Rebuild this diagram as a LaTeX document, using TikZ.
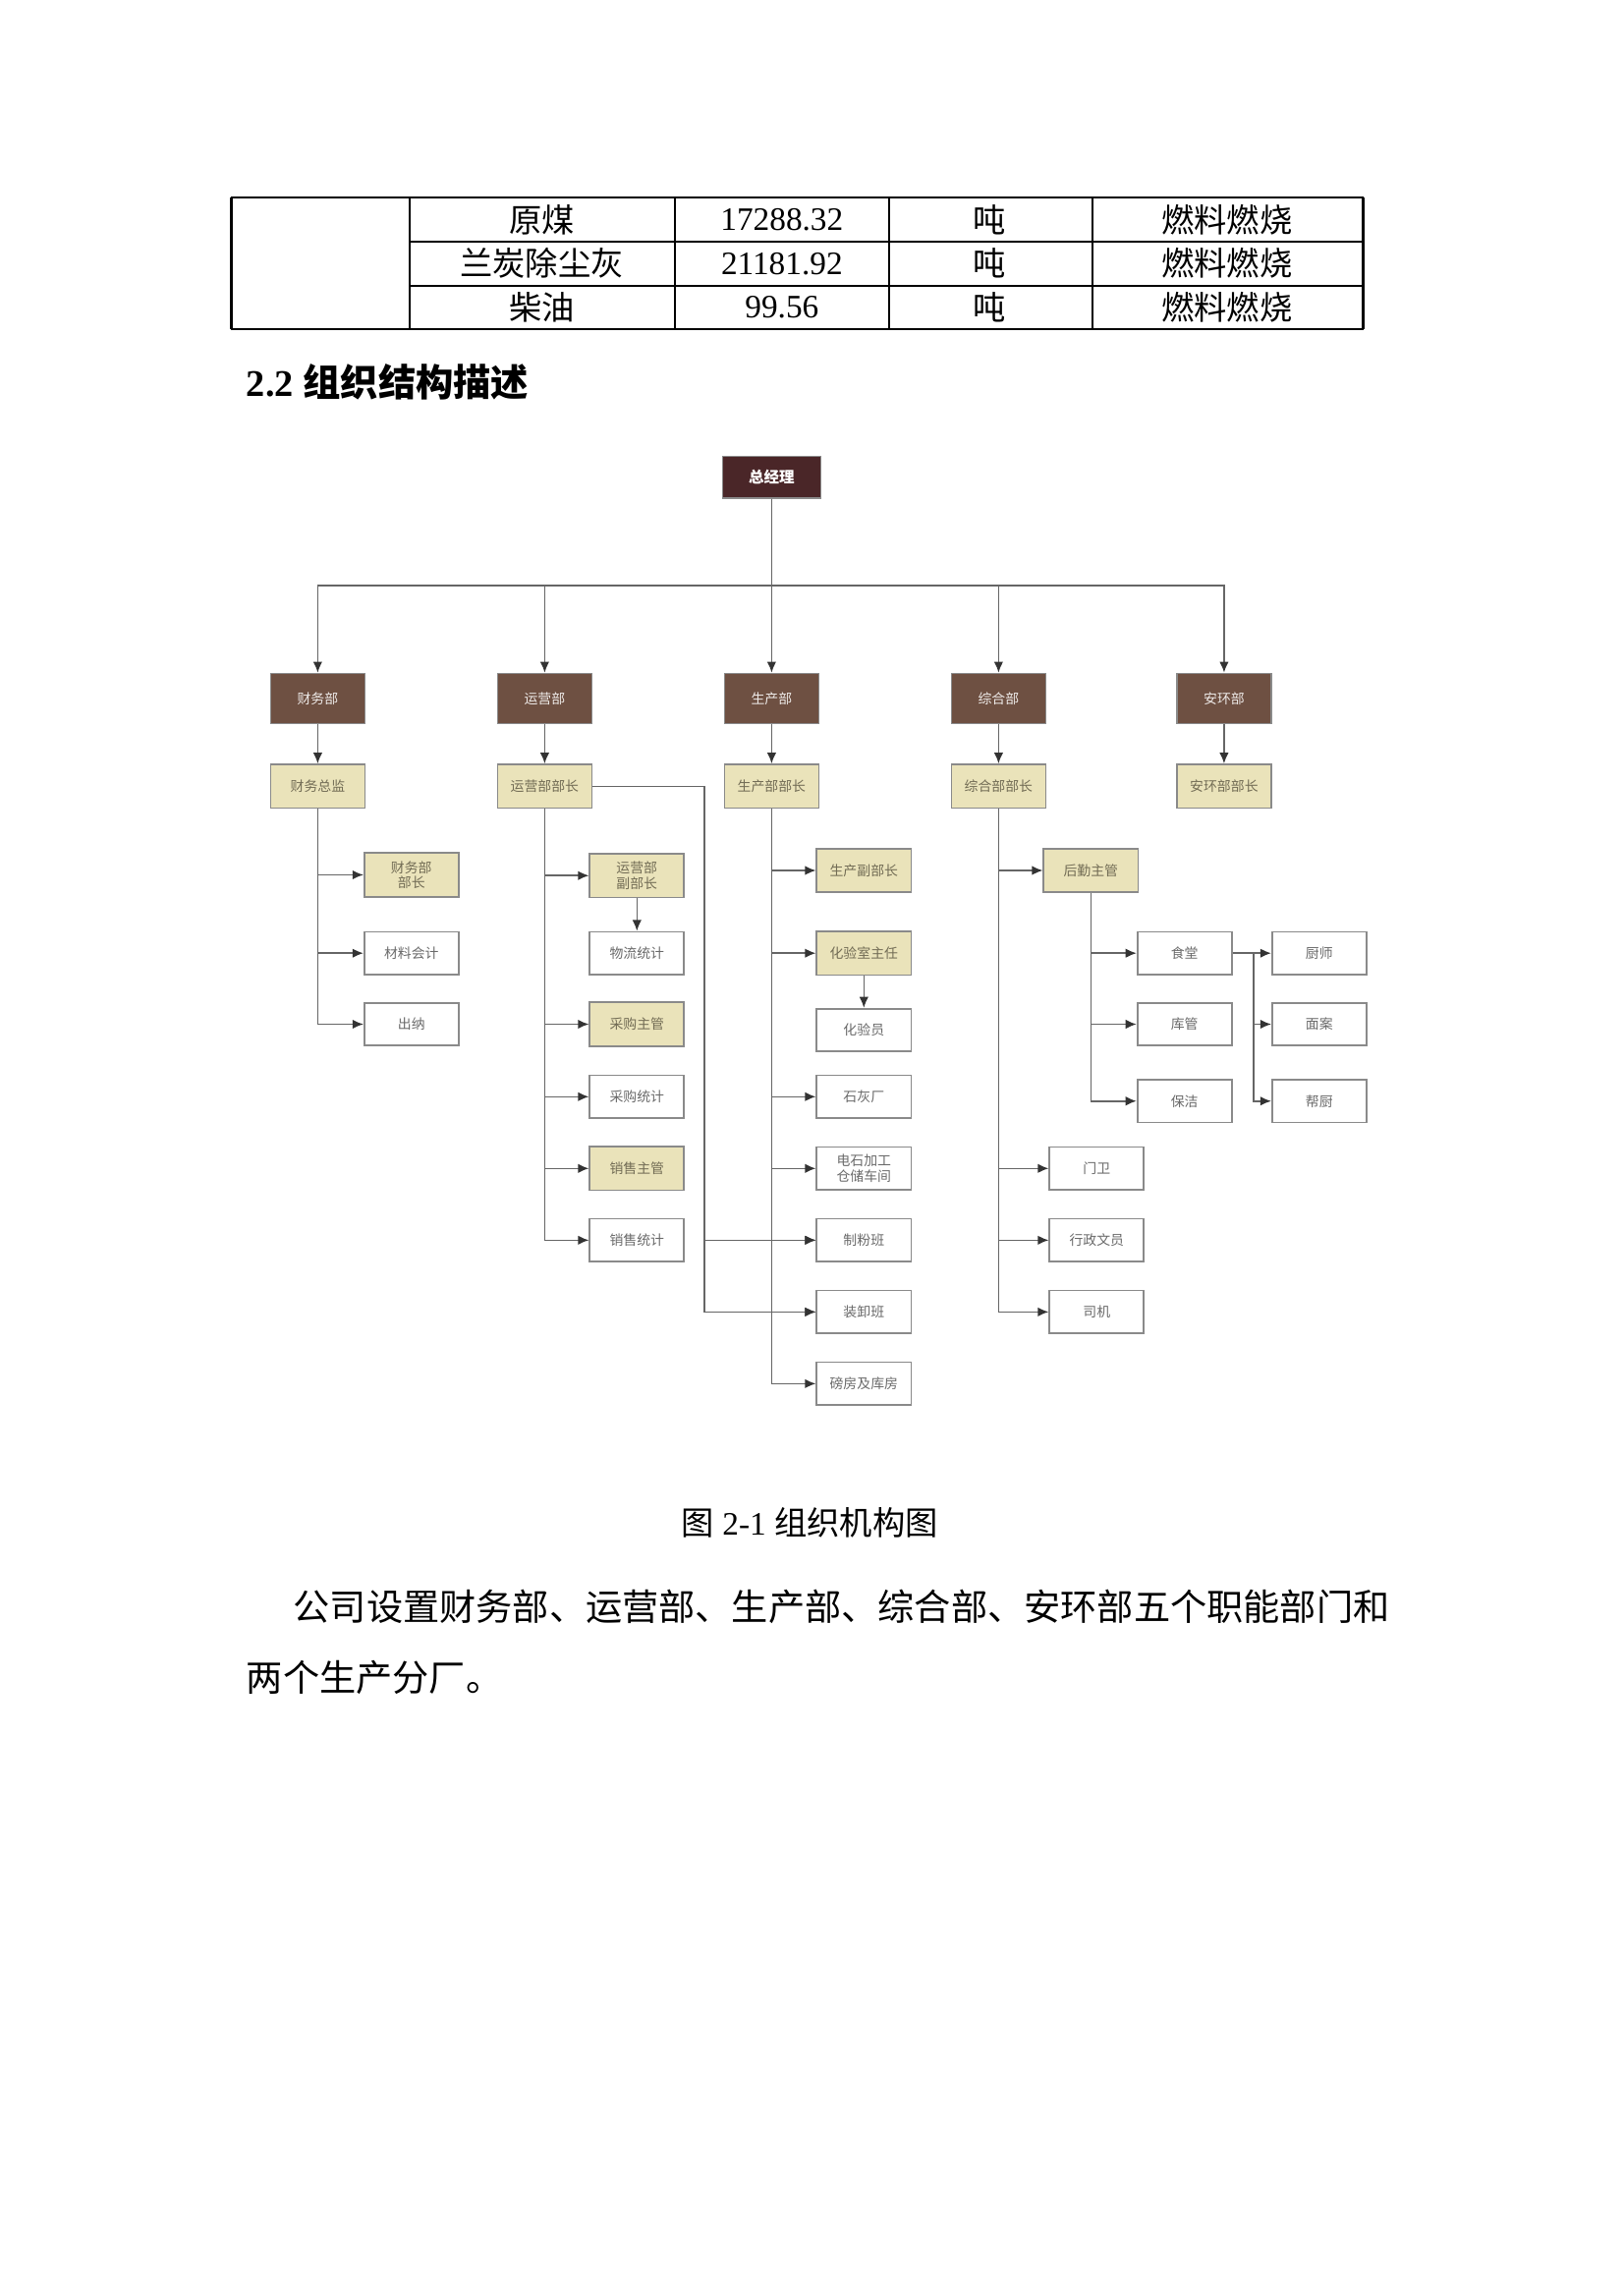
\documentclass[tikz,border=0pt]{standalone}
\usepackage{fontspec}
\setmainfont{Liberation Serif}
\newfontfamily\cjk{Noto Sans CJK SC}
\usetikzlibrary{arrows.meta}
\definecolor{bossc}{HTML}{4A2628}
\definecolor{deptc}{HTML}{6E5042}
\definecolor{khaki}{HTML}{EAE3BA}
\definecolor{linec}{HTML}{666666}
\definecolor{bordc}{HTML}{8A8A8A}
\definecolor{txtg}{HTML}{6A6A6A}
\definecolor{txtk}{HTML}{726C55}
\definecolor{arrc}{HTML}{333333}
\tikzset{
  boss/.style={draw=bordc, line width=0.5pt, fill=bossc, text=white, font=\cjk\fontsize{5.6}{6}\selectfont\bfseries, minimum width=36pt, minimum height=15.2pt, inner sep=1pt},
  dept/.style={draw=bordc, line width=0.5pt, fill=deptc, text=white!88!deptc, font=\cjk\fontsize{5}{6}\selectfont, minimum width=34.6pt, minimum height=18.4pt, inner sep=1pt},
  head/.style={draw=bordc, line width=0.6pt, fill=khaki, text=txtk, font=\cjk\fontsize{5}{6}\selectfont, minimum width=34.6pt, minimum height=16pt, inner sep=1pt, align=center},
  leaf/.style={draw=bordc, line width=0.6pt, fill=white, text=txtg, font=\cjk\fontsize{5}{6}\selectfont, minimum width=34.6pt, minimum height=15.7pt, inner sep=1pt, align=center},
  conn/.style={draw=linec, line width=0.55pt, -{Latex[length=4pt,width=3.4pt,color=arrc]}},
  plain/.style={draw=linec, line width=0.55pt},
  tline/.style={draw=black, line width=0.8pt},
  ttext/.style={font=\fontsize{12}{14}\selectfont, inner sep=0pt}
}
\begin{document}
\begin{tikzpicture}[x=0.5369pt,y=-0.5369pt]
\useasboundingbox (0,0) rectangle (1108.7,1568.1);
% ---------- table ----------
\draw[tline] (158,135) -- (931,135);
\draw[tline] (158,225) -- (931,225);
\draw[tline] (280,165) -- (931,165);
\draw[tline] (280,195) -- (931,195);
\foreach \x in {158,280,461,607,746,931} \draw[tline] (\x,135) -- (\x,225);
\node[ttext] (t11) at (370,150) {\cjk 原煤};
\node[ttext] (t12) at (534,150) {17288.32};
\node[ttext] (t13) at (676,150) {\cjk 吨};
\node[ttext] (t14) at (838,150) {\cjk 燃料燃烧};
\node[ttext] (t21) at (370,180) {\cjk 兰炭除尘灰};
\node[ttext] (t22) at (534,180) {21181.92};
\node[ttext] (t23) at (676,180) {\cjk 吨};
\node[ttext] (t24) at (838,180) {\cjk 燃料燃烧};
\node[ttext] (t31) at (370,210) {\cjk 柴油};
\node[ttext] (t32) at (534,210) {99.56};
\node[ttext] (t33) at (676,210) {\cjk 吨};
\node[ttext] (t34) at (838,210) {\cjk 燃料燃烧};
% ---------- heading ----------
\node[anchor=west, inner sep=0pt, font=\fontsize{13.8}{15}\selectfont\bfseries] (hd) at (168,261) {2.2 {\cjk\bfseries 组织结构描述}};
% ---------- chart ----------
\node[boss] (gm) at (527,326) {总经理};
\node[dept] (cw) at (217,477) {财务部};
\node[dept] (yy) at (372,477) {运营部};
\node[dept] (sc) at (527,477) {生产部};
\node[dept] (zh) at (682,477) {综合部};
\node[dept] (ah) at (836,477) {安环部};
\node[head] (cwzj) at (217,537) {财务总监};
\node[head] (yybz) at (372,537) {运营部部长};
\node[head] (scbz) at (527,537) {生产部部长};
\node[head] (zhbz) at (682,537) {综合部部长};
\node[head] (ahbz) at (836,537) {安环部部长};
% finance
\node[head, font=\cjk\fontsize{5}{5.6}\selectfont] (cwbz) at (281,597.5) {财务部\\部长};
\node[leaf] (clkj) at (281,651) {材料会计};
\node[leaf] (cn) at (281,699.5) {出纳};
% operations
\node[head, font=\cjk\fontsize{5}{5.6}\selectfont] (yyfb) at (435,598) {运营部\\副部长};
\node[leaf] (wltj) at (435,651) {物流统计};
\node[head] (cgzg) at (435,699.5) {采购主管};
\node[leaf] (cgtj) at (435,749) {采购统计};
\node[head] (xszg) at (435,798) {销售主管};
\node[leaf] (xstj) at (435,847) {销售统计};
% production
\node[head] (scfb) at (590,594.5) {生产副部长};
\node[head] (hys) at (590,651) {化验室主任};
\node[leaf] (hyy) at (590,703.5) {化验员};
\node[leaf] (shc) at (590,749) {石灰厂};
\node[leaf, font=\cjk\fontsize{5}{5.6}\selectfont] (dsjg) at (590,798) {电石加工\\仓储车间};
\node[leaf] (zfb) at (590,847) {制粉班};
\node[leaf] (zxb) at (590,896) {装卸班};
\node[leaf] (bf) at (590,945) {磅房及库房};
% general
\node[head] (hqzg) at (745,594.5) {后勤主管};
\node[leaf] (st) at (809,651) {食堂};
\node[leaf] (kg) at (809,699.5) {库管};
\node[leaf] (bj) at (809,752) {保洁};
\node[leaf] (cs) at (901,651) {厨师};
\node[leaf] (ma) at (901,699.5) {面案};
\node[leaf] (bc) at (901,752) {帮厨};
\node[leaf] (mw) at (749,798) {门卫};
\node[leaf] (xzwy) at (749,847) {行政文员};
\node[leaf] (sj) at (749,896) {司机};
% connectors
\coordinate (bus) at (527,400);
\draw[plain] (gm.south) -- (bus);
\draw[conn] (bus) -| (cw.north);
\draw[conn] (bus) -| (yy.north);
\draw[conn] (bus) -- (sc.north);
\draw[conn] (bus) -| (zh.north);
\draw[conn] (bus) -| (ah.north);
\draw[conn] (cw) -- (cwzj);
\draw[conn] (yy) -- (yybz);
\draw[conn] (sc) -- (scbz);
\draw[conn] (zh) -- (zhbz);
\draw[conn] (ah) -- (ahbz);
\foreach \n in {cwbz,clkj,cn} \draw[conn] (cwzj.south) |- (\n.west);
\foreach \n in {yyfb,cgzg,cgtj,xszg,xstj} \draw[conn] (yybz.south) |- (\n.west);
\draw[conn] (yyfb.south) -- (wltj.north);
\coordinate (j1) at (481,537);
\draw[conn] (yybz.east) -- (j1) |- (zxb.west);
\draw[conn] (j1) |- (zfb.west);
\foreach \n in {scfb,hys,shc,dsjg,zfb,zxb,bf} \draw[conn] (scbz.south) |- (\n.west);
\draw[conn] (hys.south) -- (hyy.north);
\foreach \n in {hqzg,mw,xzwy,sj} \draw[conn] (zhbz.south) |- (\n.west);
\foreach \n in {st,kg,bj} \draw[conn] (hqzg.south) |- (\n.west);
\coordinate (j2) at (856,651);
\draw[conn] (st.east) -- (cs.west);
\draw[conn] (j2) |- (ma.west);
\draw[conn] (j2) |- (bc.west);
% ---------- caption and text ----------
\node[inner sep=0pt, font=\fontsize{12}{14}\selectfont] (cap) at (553,1040) {{\cjk 图} 2-1 {\cjk 组织机构图}};
\node[anchor=west, inner sep=0pt, font=\cjk\fontsize{13.4}{16}\selectfont] (p1) at (200,1097) {公司设置财务部、运营部、生产部、综合部、安环部五个职能部门和};
\node[anchor=west, inner sep=0pt, font=\cjk\fontsize{13.4}{16}\selectfont] (p2) at (168,1146) {两个生产分厂。};
\end{tikzpicture}
\end{document}
